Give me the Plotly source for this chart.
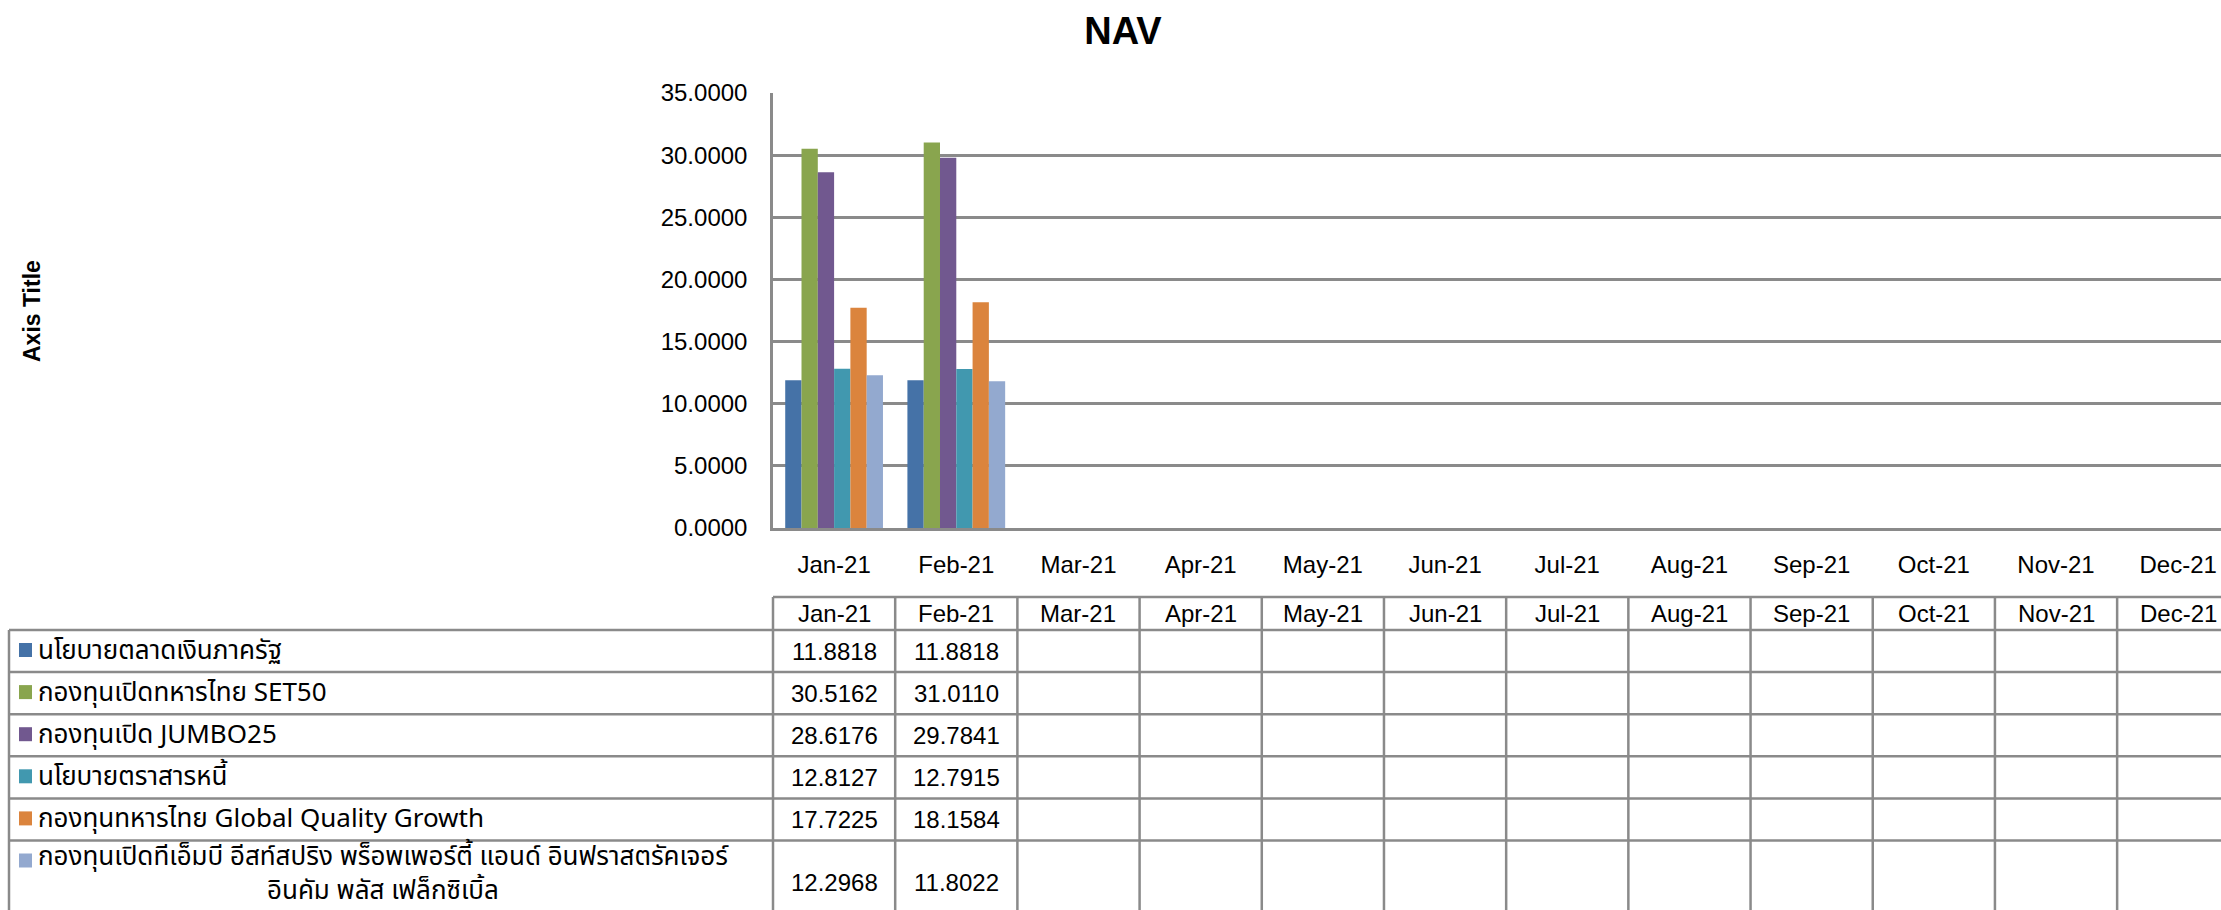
import plotly.graph_objects as go

# ---------------- data ----------------
months = ["Jan-21", "Feb-21", "Mar-21", "Apr-21", "May-21", "Jun-21",
          "Jul-21", "Aug-21", "Sep-21", "Oct-21", "Nov-21", "Dec-21"]

series_names = [
    "นโยบายตลาดเงินภาครัฐ",
    "กองทุนเปิดทหารไทย SET50",
    "กองทุนเปิด JUMBO25",
    "นโยบายตราสารหนี้",
    "กองทุนทหารไทย Global Quality Growth",
    "กองทุนเปิดทีเอ็มบี อีสท์สปริง พร็อพเพอร์ตี้ แอนด์ อินฟราสตรัคเจอร์<br>อินคัม พลัส เฟล็กซิเบิ้ล",
]

nav_money_market = [11.8818, 11.8818]
nav_set50 = [30.5162, 31.0110]
nav_jumbo25 = [28.6176, 29.7841]
nav_fixed_income = [12.8127, 12.7915]
nav_global_quality = [17.7225, 18.1584]
nav_property_infra = [12.2968, 11.8022]

series_values = [nav_money_market, nav_set50, nav_jumbo25,
                 nav_fixed_income, nav_global_quality, nav_property_infra]

colors = ["#4572A7", "#89A54E", "#71588F", "#4198AF", "#DB843D", "#93A9CF"]

y_ticks = [0, 5, 10, 15, 20, 25, 30, 35]

# ---------------- layout geometry ----------------
FIG_W, FIG_H = 2221, 910
ML, MT, MB, MR = 773, 93, 382, 0
XMIN, XMAX = -0.5, 11.35
GRID = "#8A8A8A"
FONT = "Liberation Sans, Arial, sans-serif"
THAI_FONT = "Tahoma, 'Noto Sans Thai', 'Loma', 'Garuda', 'Norasi', 'DejaVu Sans', sans-serif"

PLOT_H = FIG_H - MT - MB
PLOT_W = FIG_W - ML - MR


def py(p):  # pixel row -> paper y
    return (FIG_H - MB - p) / PLOT_H


def px(p):  # pixel col -> paper x
    return (p - ML) / PLOT_W


def cx(v):  # category coordinate -> paper x
    return (v - XMIN) / (XMAX - XMIN)


fig = go.Figure()
for name, vals, col in zip(series_names, series_values, colors):
    fig.add_trace(go.Bar(
        x=months[:len(vals)], y=vals, name=name,
        marker=dict(color=col, line=dict(width=0)),
        showlegend=False,
    ))

# ---------------- data table ----------------
shapes = []
annotations = []
LINE = dict(color=GRID, width=2.5)

header_top, header_bot = 597, 630
row_h = 42.1
row_heights = [1, 1, 1, 1, 1, 2]
row_tops = []
t = header_bot
for rh in row_heights:
    row_tops.append(t)
    t += rh * row_h
table_bottom = t

# header top line
shapes.append(dict(type="line", xref="paper", yref="paper",
                   x0=px(ML), x1=1.0, y0=py(header_top), y1=py(header_top), line=LINE))
# row lines
for rt in row_tops:
    shapes.append(dict(type="line", xref="paper", yref="paper",
                       x0=px(9), x1=1.0, y0=py(rt), y1=py(rt), line=LINE))
# left border
shapes.append(dict(type="line", xref="paper", yref="paper",
                   x0=px(9), x1=px(9), y0=py(header_bot), y1=py(table_bottom), line=LINE))
# column boundaries
for i in range(len(months) + 1):
    xv = cx(i - 0.5)
    if xv > 1.0:
        continue
    shapes.append(dict(type="line", xref="paper", yref="paper",
                       x0=xv, x1=xv, y0=py(header_top), y1=py(table_bottom), line=LINE))

# header texts
for m in months:
    annotations.append(dict(text=m, xref="x", yref="paper", x=m, y=py((header_top + header_bot) / 2),
                            xanchor="center", yanchor="middle", showarrow=False,
                            font=dict(family=FONT, size=24, color="black")))

# rows
for r, (name, vals, col) in enumerate(zip(series_names, series_values, colors)):
    top = row_tops[r]
    h = row_heights[r] * row_h
    # legend key
    shapes.append(dict(type="rect", xref="paper", yref="paper",
                       x0=px(19), x1=px(32), y0=py(top + 13), y1=py(top + 27),
                       fillcolor=col, line=dict(width=0)))
    # label
    if row_heights[r] == 1:
        ly = top + h / 2
    else:
        ly = top + h / 2 - 9
    annotations.append(dict(text=name, xref="paper", yref="paper", x=px(36), y=py(ly),
                            xanchor="left", yanchor="middle", align="center", showarrow=False,
                            font=dict(family=THAI_FONT, size=26, color="black")))
    # values
    for m, v in zip(months, vals):
        annotations.append(dict(text=f"{v:.4f}", xref="x", yref="paper", x=m, y=py(top + h / 2),
                                xanchor="center", yanchor="middle", showarrow=False,
                                font=dict(family=FONT, size=24, color="black")))

# axis title (vertical)
annotations.append(dict(text="<b>Axis Title</b>", xref="paper", yref="paper",
                        x=px(32), y=py(311), textangle=-90, showarrow=False,
                        xanchor="center", yanchor="middle",
                        font=dict(family=FONT, size=23, color="black")))

fig.update_layout(
    width=FIG_W, height=FIG_H,
    margin=dict(l=ML, r=MR, t=MT, b=MB, autoexpand=False),
    paper_bgcolor="white", plot_bgcolor="white",
    title=dict(text="<b>NAV</b>", x=1123 / FIG_W, xanchor="center",
               y=1 - 31 / FIG_H, yanchor="middle",
               font=dict(family=FONT, size=38, color="black")),
    barmode="group", bargap=0.2, bargroupgap=0,
    shapes=shapes, annotations=annotations,
    showlegend=False,
)
fig.update_xaxes(
    type="category", categoryorder="array", categoryarray=months,
    range=[XMIN, XMAX], showgrid=False, zeroline=False,
    showline=True, linecolor=GRID, linewidth=2.5, ticks="",
    tickfont=dict(family=FONT, size=24, color="black"),
    ticklabelstandoff=13, fixedrange=True,
)
fig.update_yaxes(
    range=[0, 35], tickvals=y_ticks, tickformat=".4f",
    showgrid=True, gridcolor=GRID, gridwidth=2.5, zeroline=False,
    showline=True, linecolor=GRID, linewidth=2.5, ticks="",
    tickfont=dict(family=FONT, size=24, color="black"),
    ticklabelstandoff=18, fixedrange=True,
)

fig.write_html("out.html", config={"displayModeBar": False},
               post_script="document.body.style.margin='0';document.body.style.overflow='hidden';")
